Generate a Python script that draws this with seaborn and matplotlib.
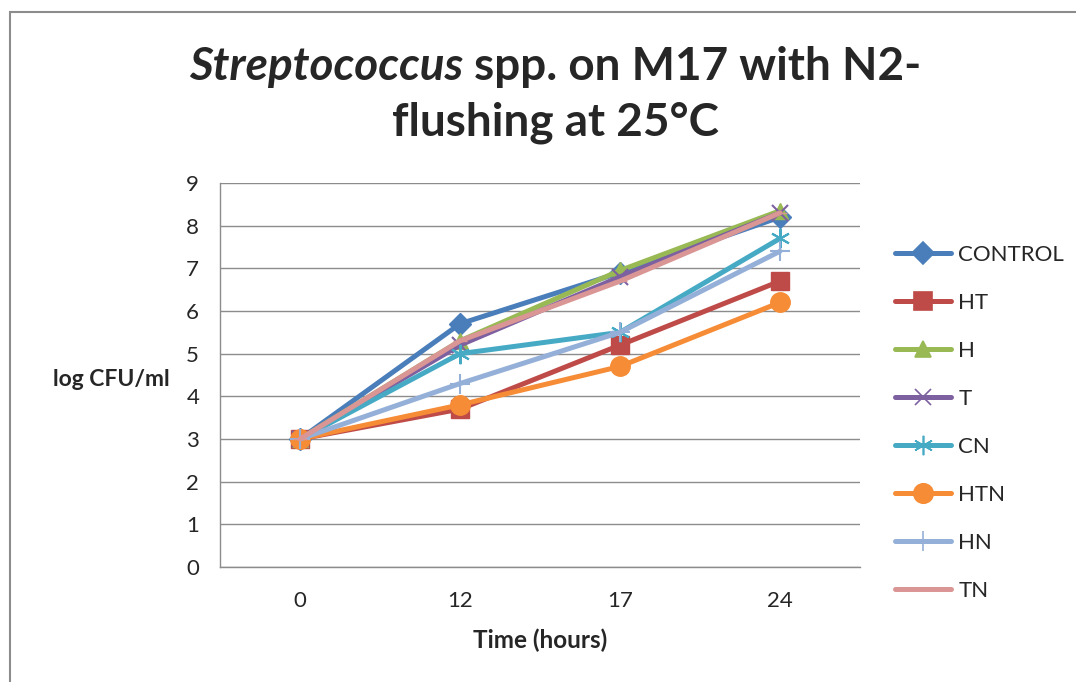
import numpy as np
import matplotlib
matplotlib.use("Agg")
import matplotlib.pyplot as plt
import seaborn as sns
from matplotlib.patches import Rectangle
from matplotlib.lines import Line2D

# -------------------------- data --------------------------
times = ["0", "12", "17", "24"]
series_names = ["CONTROL", "HT", "H", "T", "CN", "HTN", "HN", "TN"]
control = [3.0, 5.7, 6.9, 8.2]
ht = [3.0, 3.7, 5.2, 6.7]
h = [3.0, 5.3, 6.95, 8.35]
t = [3.0, 5.2, 6.8, 8.3]
cn = [3.0, 5.0, 5.5, 7.7]
htn = [3.0, 3.8, 4.7, 6.2]
hn = [3.0, 4.3, 5.5, 7.4]
tn = [3.0, 5.3, 6.7, 8.3]
values = [control, ht, h, t, cn, htn, hn, tn]

colors = ["#4A7EBB", "#BE4B48", "#98B954", "#7D60A0", "#46AAC5", "#F68C36", "#95B0D8", "#D99694"]
markers = ["D", "s", "^", "x", (6, 2, 0), "o", "+", "_"]
msizes = [11, 13, 12, 12, 14, 14, 14, 10]

sns.set_style("white")
plt.rcParams['font.family'] = ['Lato', 'DejaVu Sans']

fig = plt.figure(figsize=(10.76, 6.82), dpi=100)
ax = fig.add_axes([220 / 1076, 1 - 567 / 682, 640 / 1076, 384 / 682])

# outer chart border
fig.patches.append(Rectangle((10 / 1076, -0.2), 1.2, 1.2 - 12 / 682,
                             transform=fig.transFigure, fill=False,
                             edgecolor="#8C8C8C", linewidth=1.5))

xpos = np.arange(len(times))
handles = []
for name, vals, c, m, ms in zip(series_names, values, colors, markers, msizes):
    thin = m in ("x", "+", (6, 2, 0))
    sns.lineplot(x=xpos, y=vals, ax=ax, color=c, linewidth=3.6, marker=m,
                 markersize=ms, markeredgecolor=c, markeredgewidth=1.5 if thin else 1,
                 label=None, legend=False)
    handles.append(Line2D([], [], color=c, linewidth=3.6, marker=m, markersize=ms,
                          markeredgecolor=c, markeredgewidth=1.2, label=name))

ax.set_xlim(-0.5, 3.5)
ax.set_ylim(0, 9)
ax.set_yticks(range(0, 10))
ax.set_xticks(xpos)
ax.set_xticklabels(times)
ax.set_xticks(np.arange(-0.5, 3.6, 1), minor=True)
ax.tick_params(axis="x", which="major", length=0, labelsize=16, pad=17)
ax.tick_params(axis="x", which="minor", length=7, color="#8C8C8C", width=1, direction="out")
ax.tick_params(axis="y", length=6, color="#8C8C8C", width=1, labelsize=16, pad=9, direction="out")
ax.yaxis.grid(True, color="#8C8C8C", linewidth=1)
ax.xaxis.grid(False)
for s in ["top", "right"]:
    ax.spines[s].set_visible(False)
for s in ["left", "bottom"]:
    ax.spines[s].set_color("#8C8C8C")
    ax.spines[s].set_linewidth(1)
ax.set_axisbelow(True)

fig.text(111 / 1076, 1 - 380 / 682, "log CFU/ml", fontsize=16.5, fontweight="bold",
         ha="center", va="center")
fig.text(540 / 1076, 1 - 640 / 682, "Time (hours)", fontsize=17.5, fontweight="bold",
         ha="center", va="center")

# title: italic genus name followed by upright text
y1 = 1 - 67 / 682
t_it = fig.text(0, y1, "Streptococcus", fontsize=33, fontweight="bold", style="italic",
                ha="left", va="center")
t_rest = fig.text(0, y1, " spp. on M17 with N2-", fontsize=33, fontweight="bold",
                  ha="left", va="center")
fig.canvas.draw()
r = fig.canvas.get_renderer()
w1 = t_it.get_window_extent(r).width
w2 = t_rest.get_window_extent(r).width
x0 = 555 - (w1 + w2) / 2
t_it.set_x(x0 / 1076)
t_rest.set_x((x0 + w1) / 1076)
fig.text(555 / 1076, 1 - 123 / 682, "flushing at 25°C", fontsize=33, fontweight="bold",
         ha="center", va="center")

fig.legend(handles=handles, loc="upper left", bbox_to_anchor=(895 / 1076, 1 - 245 / 682),
           frameon=False, fontsize=16, handlelength=2.5, labelspacing=1.26,
           handletextpad=0.35, borderaxespad=0, borderpad=0)

fig.savefig("out.png", dpi=100, facecolor="white")
